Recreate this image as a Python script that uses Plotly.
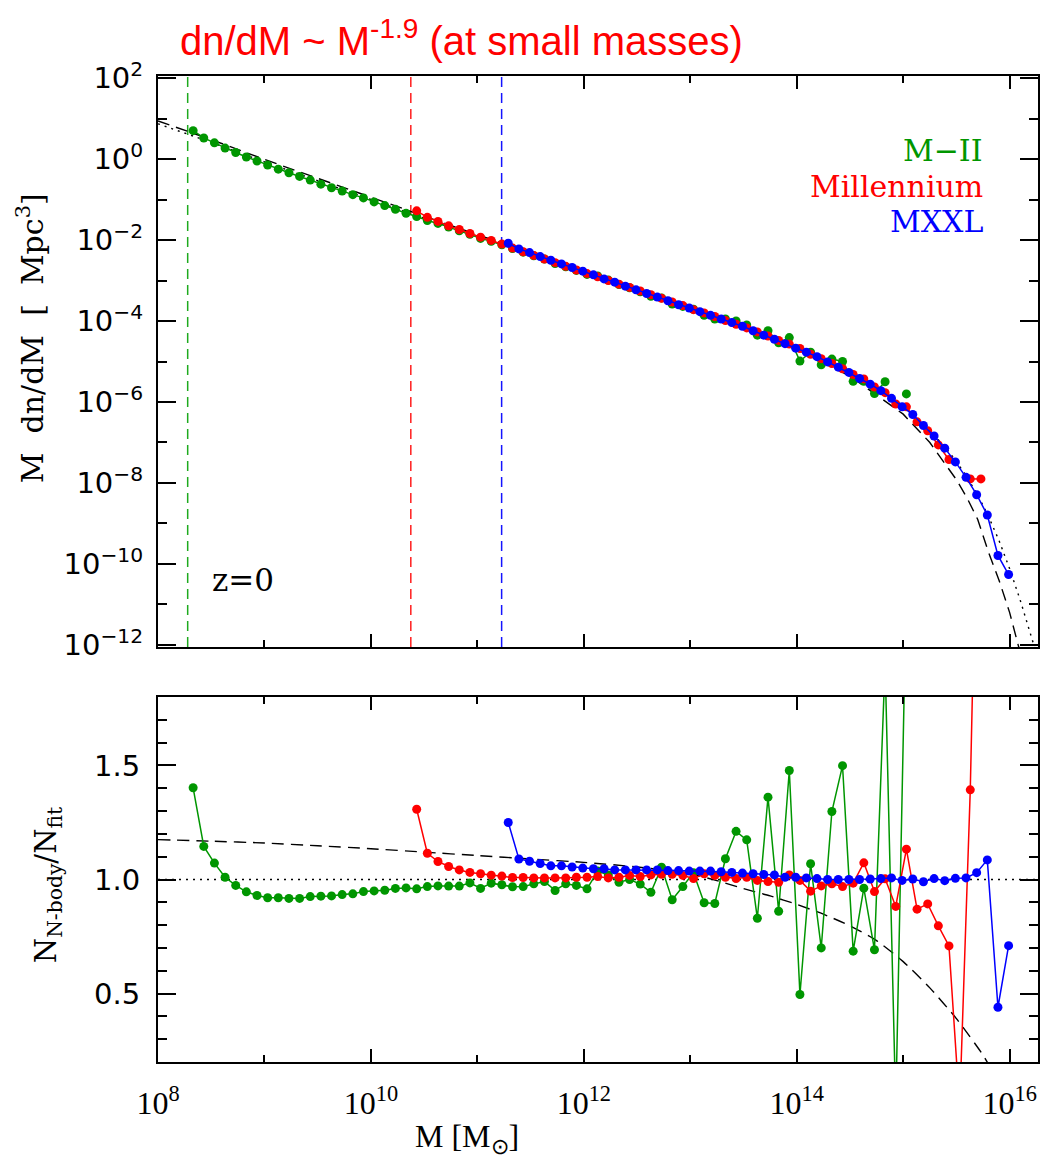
import plotly.graph_objects as go

# ---------------- data ----------------
# log10 of halo-mass bin centres [M_sun]
mii_logM = [8.33, 8.43, 8.53, 8.63, 8.73, 8.83, 8.93, 9.03, 9.13, 9.23, 9.33, 9.43, 9.53, 9.63,
            9.73, 9.83, 9.93, 10.03, 10.13, 10.23, 10.33, 10.43, 10.53, 10.63, 10.73, 10.83,
            10.93, 11.03, 11.13, 11.23, 11.33, 11.43, 11.53, 11.63, 11.73, 11.83, 11.93, 12.03,
            12.13, 12.23, 12.33, 12.43, 12.53, 12.63, 12.73, 12.83, 12.93, 13.03, 13.13, 13.23,
            13.33, 13.43, 13.53, 13.63, 13.73, 13.83, 13.93, 14.03, 14.13, 14.23, 14.33, 14.43,
            14.53, 14.63, 14.73, 14.83, 14.93, 15.03]
mr_logM = [10.43, 10.53, 10.63, 10.73, 10.83, 10.93, 11.03, 11.13, 11.23, 11.33, 11.43, 11.53,
           11.63, 11.73, 11.83, 11.93, 12.03, 12.13, 12.23, 12.33, 12.43, 12.53, 12.63, 12.73,
           12.83, 12.93, 13.03, 13.13, 13.23, 13.33, 13.43, 13.53, 13.63, 13.73, 13.83, 13.93,
           14.03, 14.13, 14.23, 14.33, 14.43, 14.53, 14.63, 14.73, 14.83, 14.93, 15.03, 15.13,
           15.23, 15.33, 15.43, 15.53, 15.63, 15.73]
mxxl_logM = [11.29, 11.39, 11.49, 11.59, 11.69, 11.79, 11.89, 11.99, 12.09, 12.19, 12.29, 12.39,
             12.49, 12.59, 12.69, 12.79, 12.89, 12.99, 13.09, 13.19, 13.29, 13.39, 13.49, 13.59,
             13.69, 13.79, 13.89, 13.99, 14.09, 14.19, 14.29, 14.39, 14.49, 14.59, 14.69, 14.79,
             14.89, 14.99, 15.09, 15.19, 15.29, 15.39, 15.49, 15.59, 15.69, 15.79, 15.89, 15.99]

# top panel: log10( M dn/dM [Mpc^-3] )   (None = empty bin)
mii_log_mdndm = [0.70, 0.52, 0.40, 0.27, 0.16, 0.05, -0.05, -0.15, -0.25, -0.34, -0.43, -0.52,
                 -0.62, -0.71, -0.79, -0.88, -0.96, -1.06, -1.15, -1.24, -1.34, -1.42, -1.52,
                 -1.59, -1.68, -1.77, -1.86, -1.96, -2.03, -2.12, -2.21, -2.30, -2.39, -2.47,
                 -2.58, -2.66, -2.75, -2.85, -2.89, -2.99, -3.10, -3.18, -3.28, -3.39, -3.43,
                 -3.58, -3.64, -3.71, -3.86, -3.95, -3.95, -4.00, -4.10, -4.35, -4.24, -4.54,
                 -4.41, -4.99, -4.77, -5.08, -4.94, -5.00, -5.49, -5.49, -5.79, -5.50, None, -5.80]
mr_log_mdndm = [-1.28, -1.44, -1.54, -1.65, -1.74, -1.84, -1.93, -2.01, -2.10, -2.20, -2.29,
                -2.38, -2.47, -2.56, -2.65, -2.74, -2.83, -2.91, -3.00, -3.09, -3.17, -3.26,
                -3.35, -3.44, -3.53, -3.62, -3.72, -3.80, -3.89, -3.99, -4.08, -4.17, -4.27,
                -4.37, -4.48, -4.57, -4.68, -4.82, -4.93, -5.05, -5.18, -5.32, -5.43, -5.63,
                -5.77, -6.05, -6.12, -6.49, -6.71, -7.06, -7.42, None, -7.90, -7.90]
mxxl_log_mdndm = [-2.08, -2.22, -2.31, -2.41, -2.50, -2.59, -2.68, -2.77, -2.86, -2.96, -3.04,
                  -3.14, -3.23, -3.32, -3.41, -3.50, -3.60, -3.68, -3.77, -3.86, -3.95, -4.04,
                  -4.13, -4.24, -4.35, -4.45, -4.56, -4.67, -4.77, -4.88, -5.01, -5.14, -5.27,
                  -5.42, -5.56, -5.72, -5.91, -6.12, -6.31, -6.58, -6.84, -7.14, -7.48, -7.86,
                  -8.29, -8.79, -9.79, -10.26]

# bottom panel: N_N-body / N_fit
mii_ratio = [1.402, 1.145, 1.072, 1.010, 0.974, 0.946, 0.930, 0.920, 0.920, 0.917, 0.917, 0.925,
             0.927, 0.928, 0.934, 0.937, 0.947, 0.950, 0.953, 0.961, 0.963, 0.959, 0.969, 0.972,
             0.971, 0.971, 0.985, 0.961, 0.984, 0.977, 0.968, 0.969, 0.981, 0.991, 0.952, 0.981,
             0.974, 0.959, 1.037, 1.020, 0.988, 1.000, 0.980, 0.944, 1.054, 0.911, 0.969, 1.030,
             0.898, 0.895, 1.091, 1.211, 1.174, 0.830, 1.361, 0.861, 1.478, 0.496, 1.069, 0.700,
             1.298, 1.499, 0.686, 0.962, 0.692, 1.95, 0.0, 2.3]
mr_ratio = [1.308, 1.115, 1.079, 1.057, 1.042, 1.031, 1.025, 1.019, 1.015, 1.009, 1.009, 1.007,
            1.007, 1.007, 1.007, 1.010, 1.010, 1.013, 1.007, 1.010, 1.018, 1.013, 1.020, 1.023,
            1.023, 1.018, 1.004, 1.025, 1.018, 1.010, 1.004, 1.010, 0.996, 0.991, 0.988, 1.020,
            0.996, 0.949, 0.972, 0.981, 0.969, 0.984, 1.073, 0.947, 1.003, 0.882, 1.133, 0.870,
            0.893, 0.797, 0.709, 0.0, 1.393, 3.5]
mxxl_ratio = [1.25, 1.09, 1.08, 1.07, 1.06, 1.06, 1.055, 1.05, 1.047, 1.047, 1.042, 1.042, 1.042,
              1.042, 1.042, 1.039, 1.039, 1.037, 1.037, 1.037, 1.034, 1.031, 1.028, 1.025, 1.022,
              1.02, 1.01, 1.01, 1.007, 1.004, 1.0, 1.0, 1.0, 1.0, 1.002, 1.004, 1.007, 0.996,
              1.002, 0.99, 1.004, 0.995, 1.005, 1.007, 1.03, 1.086, 0.44, 0.71]

# fitting functions (top panel, log10 M dn/dM)
fit_logM = [8.0, 8.5, 9.0, 9.5, 10.0, 10.5, 11.0, 11.5, 12.0, 12.5, 13.0, 13.5, 13.8, 14.0, 14.2,
            14.4, 14.6, 14.8, 15.0, 15.2, 15.4, 15.5, 15.6, 15.7, 15.8, 15.9, 16.0, 16.1, 16.2, 16.25]
fit_log = [0.87, 0.41, -0.07, -0.54, -1.00, -1.46, -1.91, -2.35, -2.80, -3.24, -3.69, -4.14, -4.44,
           -4.65, -4.88, -5.13, -5.41, -5.73, -6.10, -6.56, -7.13, -7.47, -7.86, -8.30, -8.82,
           -9.42, -10.12, -10.90, -11.75, -12.2]
alt_logM = [8.0, 8.5, 9.0, 9.5, 10.0, 10.5, 11.0, 11.5, 12.0, 12.5, 13.0, 13.5, 14.0, 14.5, 15.0,
            15.25, 15.5, 15.6, 15.7, 15.8, 15.9, 16.0, 16.07, 16.12]
alt_log = [0.94, 0.48, -0.01, -0.48, -0.95, -1.41, -1.87, -2.31, -2.77, -3.22, -3.68, -4.16, -4.70,
           -5.36, -6.30, -7.00, -7.92, -8.37, -8.90, -9.70, -10.40, -11.20, -11.90, -12.4]
# alternative fit divided by reference fit (bottom panel dashed)
alt_ratio_logM = [8.0, 8.5, 9.0, 9.5, 10.0, 10.5, 11.0, 11.5, 12.0, 12.5, 13.0, 13.25, 13.5,
                  13.75, 14.0, 14.25, 14.5, 14.75, 15.0, 15.25, 15.5, 15.75, 15.85]
alt_ratio = [1.175, 1.168, 1.16, 1.148, 1.135, 1.12, 1.105, 1.09, 1.075, 1.055, 1.025, 0.995, 0.96,
             0.928, 0.891, 0.848, 0.797, 0.732, 0.640, 0.525, 0.390, 0.230, 0.15]

# mass resolution limits [M_sun]: M-II, Millennium, MXXL
resolution_limits = [1.9e8, 2.37e10, 1.69e11]

series_names = ["M\u2212II", "Millennium", "MXXL"]
series_colors = ["rgb(0,150,0)", "rgb(255,0,0)", "rgb(0,0,255)"]
limit_colors = ["rgb(30,170,30)", "rgb(255,30,30)", "rgb(20,20,255)"]

# ---------------- geometry ----------------
W, H = 1043, 1160
L, R, T, B = 158, 3, 76, 98
PW, PH = W - L - R, H - T - B
PX_PER_DEC = 106.7
XR = [8.0, 8.0 + PW / PX_PER_DEC]
TOP_YR = [-12.05, 2.05]


def py(p):
    return (H - B - p) / PH


def pxp(p):
    return (p - L) / PW


def to_mass(lst):
    return [10 ** v for v in lst]


def to_lin(lst):
    return [None if v is None else 10 ** v for v in lst]


fig = go.Figure()

# ---------- top panel ----------
for m, c in zip(resolution_limits, limit_colors):
    fig.add_trace(go.Scatter(x=[m, m], y=[10 ** TOP_YR[0], 10 ** TOP_YR[1]], mode="lines",
                             line=dict(color=c, width=1.5, dash="10px,6px"),
                             xaxis="x2", yaxis="y2", hoverinfo="skip"))

fig.add_trace(go.Scatter(x=to_mass(fit_logM), y=to_lin(fit_log), mode="lines",
                         line=dict(color="black", width=1.4, dash="2px,5px"),
                         xaxis="x2", yaxis="y2"))
fig.add_trace(go.Scatter(x=to_mass(alt_logM), y=to_lin(alt_log), mode="lines",
                         line=dict(color="black", width=1.4, dash="12px,7px"),
                         xaxis="x2", yaxis="y2"))

for lm, lv, c in zip([mii_logM, mr_logM, mxxl_logM],
                     [mii_log_mdndm, mr_log_mdndm, mxxl_log_mdndm], series_colors):
    fig.add_trace(go.Scatter(x=to_mass(lm), y=to_lin(lv), mode="lines+markers",
                             line=dict(color=c, width=1.5), marker=dict(color=c, size=9),
                             connectgaps=False, xaxis="x2", yaxis="y2"))

# ---------- bottom panel ----------
fig.add_trace(go.Scatter(x=[10 ** XR[0], 10 ** XR[1]], y=[1.0, 1.0], mode="lines",
                         line=dict(color="black", width=1.4, dash="2px,5px"),
                         xaxis="x", yaxis="y"))
fig.add_trace(go.Scatter(x=to_mass(alt_ratio_logM), y=alt_ratio, mode="lines",
                         line=dict(color="black", width=1.4, dash="12px,7px", shape="spline",
                                   smoothing=0.6),
                         xaxis="x", yaxis="y"))
for lm, rv, c in zip([mii_logM, mr_logM, mxxl_logM], [mii_ratio, mr_ratio, mxxl_ratio],
                     series_colors):
    fig.add_trace(go.Scatter(x=to_mass(lm), y=rv, mode="lines+markers",
                             line=dict(color=c, width=1.5), marker=dict(color=c, size=9),
                             xaxis="x", yaxis="y"))

# ---------- axes ----------
common = dict(showline=True, linecolor="black", linewidth=2, mirror="allticks",
              ticks="inside", tickwidth=2, tickcolor="black", showgrid=False, zeroline=False)

x_major = [1e8, 1e10, 1e12, 1e14, 1e16]
x_minor = [1e9, 1e11, 1e13, 1e15]
x_text = ["10<sup>8</sup>", "10<sup>10</sup>", "10<sup>12</sup>", "10<sup>14</sup>",
          "10<sup>16</sup>"]
y_major = [1e2, 1e0, 1e-2, 1e-4, 1e-6, 1e-8, 1e-10, 1e-12]
y_minor = [1e1, 1e-1, 1e-3, 1e-5, 1e-7, 1e-9, 1e-11]
y_text = ["10<sup>2</sup>", "10<sup>0</sup>", "10<sup>\u22122</sup>", "10<sup>\u22124</sup>",
          "10<sup>\u22126</sup>", "10<sup>\u22128</sup>", "10<sup>\u221210</sup>",
          "10<sup>\u221212</sup>"]
r_major = [0.5, 1.0, 1.5]
r_minor = [0.2, 0.3, 0.4, 0.6, 0.7, 0.8, 0.9, 1.1, 1.2, 1.3, 1.4, 1.6, 1.7, 1.8]

minor_x = dict(tickmode="array", tickvals=x_minor, ticklen=7, ticks="inside", tickwidth=2,
               tickcolor="black")

fig.update_layout(
    width=W, height=H, margin=dict(l=L, r=R, t=T, b=B, pad=0),
    paper_bgcolor="white", plot_bgcolor="white", showlegend=False,
    xaxis=dict(type="log", range=XR, domain=[0, 1], anchor="y", tickmode="array",
               tickvals=x_major, ticktext=x_text, ticklen=13, minor=minor_x,
               tickfont=dict(family="Liberation Serif", size=32, color="black"),
               ticklabelstandoff=12, **common),
    xaxis2=dict(type="log", range=XR, domain=[0, 1], anchor="y2", matches="x",
                tickmode="array", tickvals=x_major, ticklen=13, minor=minor_x,
                showticklabels=False, **common),
    yaxis=dict(range=[0.2, 1.8], domain=[0, py(697)], anchor="x", tickmode="array",
               tickvals=r_major, ticktext=["0.5", "1.0", "1.5"], ticklen=18,
               minor=dict(tickmode="array", tickvals=r_minor, ticklen=9, ticks="inside",
                          tickwidth=2, tickcolor="black"),
               tickfont=dict(family="DejaVu Sans", size=29, color="black"),
               ticklabelstandoff=10, **common),
    yaxis2=dict(type="log", range=TOP_YR, domain=[py(647), 1.0], anchor="x2",
                tickmode="array", tickvals=y_major, ticktext=y_text, ticklen=18,
                minor=dict(tickmode="array", tickvals=y_minor, ticklen=9, ticks="inside",
                           tickwidth=2, tickcolor="black"),
                tickfont=dict(family="DejaVu Sans", size=29, color="black"),
                ticklabelstandoff=7, **common),
)

ann = []
# title
ann.append(dict(text="dn/dM ~ M<sup>-1.9</sup> (at small masses)", x=pxp(462), y=py(38),
                xref="paper", yref="paper", showarrow=False, xanchor="center", yanchor="middle",
                font=dict(family="Liberation Sans", size=40, color="rgb(255,0,0)")))
# axis titles
ann.append(dict(text="M  dn/dM  [  Mpc<sup>3</sup>]", x=pxp(30), y=py(338), xref="paper",
                yref="paper", showarrow=False, textangle=-90, xanchor="center",
                yanchor="middle", font=dict(family="DejaVu Serif", size=30, color="black")))
ann.append(dict(text="N<sub>N-body</sub>/N<sub>fit</sub>", x=pxp(48), y=py(885), xref="paper",
                yref="paper", showarrow=False, textangle=-90, xanchor="center",
                yanchor="middle", font=dict(family="DejaVu Serif", size=29, color="black")))
ann.append(dict(text="M [M<sub>\u2299</sub>]", x=pxp(468), y=py(1138), xref="paper",
                yref="paper", showarrow=False, xanchor="center", yanchor="middle",
                font=dict(family="Liberation Serif", size=32, color="black")))
# legend labels
for name, c, yy in zip(series_names, series_colors, [150, 186, 222]):
    ann.append(dict(text=name, x=pxp(987), y=py(yy), xref="paper", yref="paper",
                    showarrow=False, xanchor="right", yanchor="middle",
                    font=dict(family="DejaVu Serif", size=30, color=c)))
# redshift label
ann.append(dict(text="z=0", x=pxp(210), y=py(580), xref="paper", yref="paper",
                showarrow=False, xanchor="left", yanchor="middle",
                font=dict(family="DejaVu Serif", size=31, color="black")))
fig.update_layout(annotations=ann)

fig.write_html("out.html")
